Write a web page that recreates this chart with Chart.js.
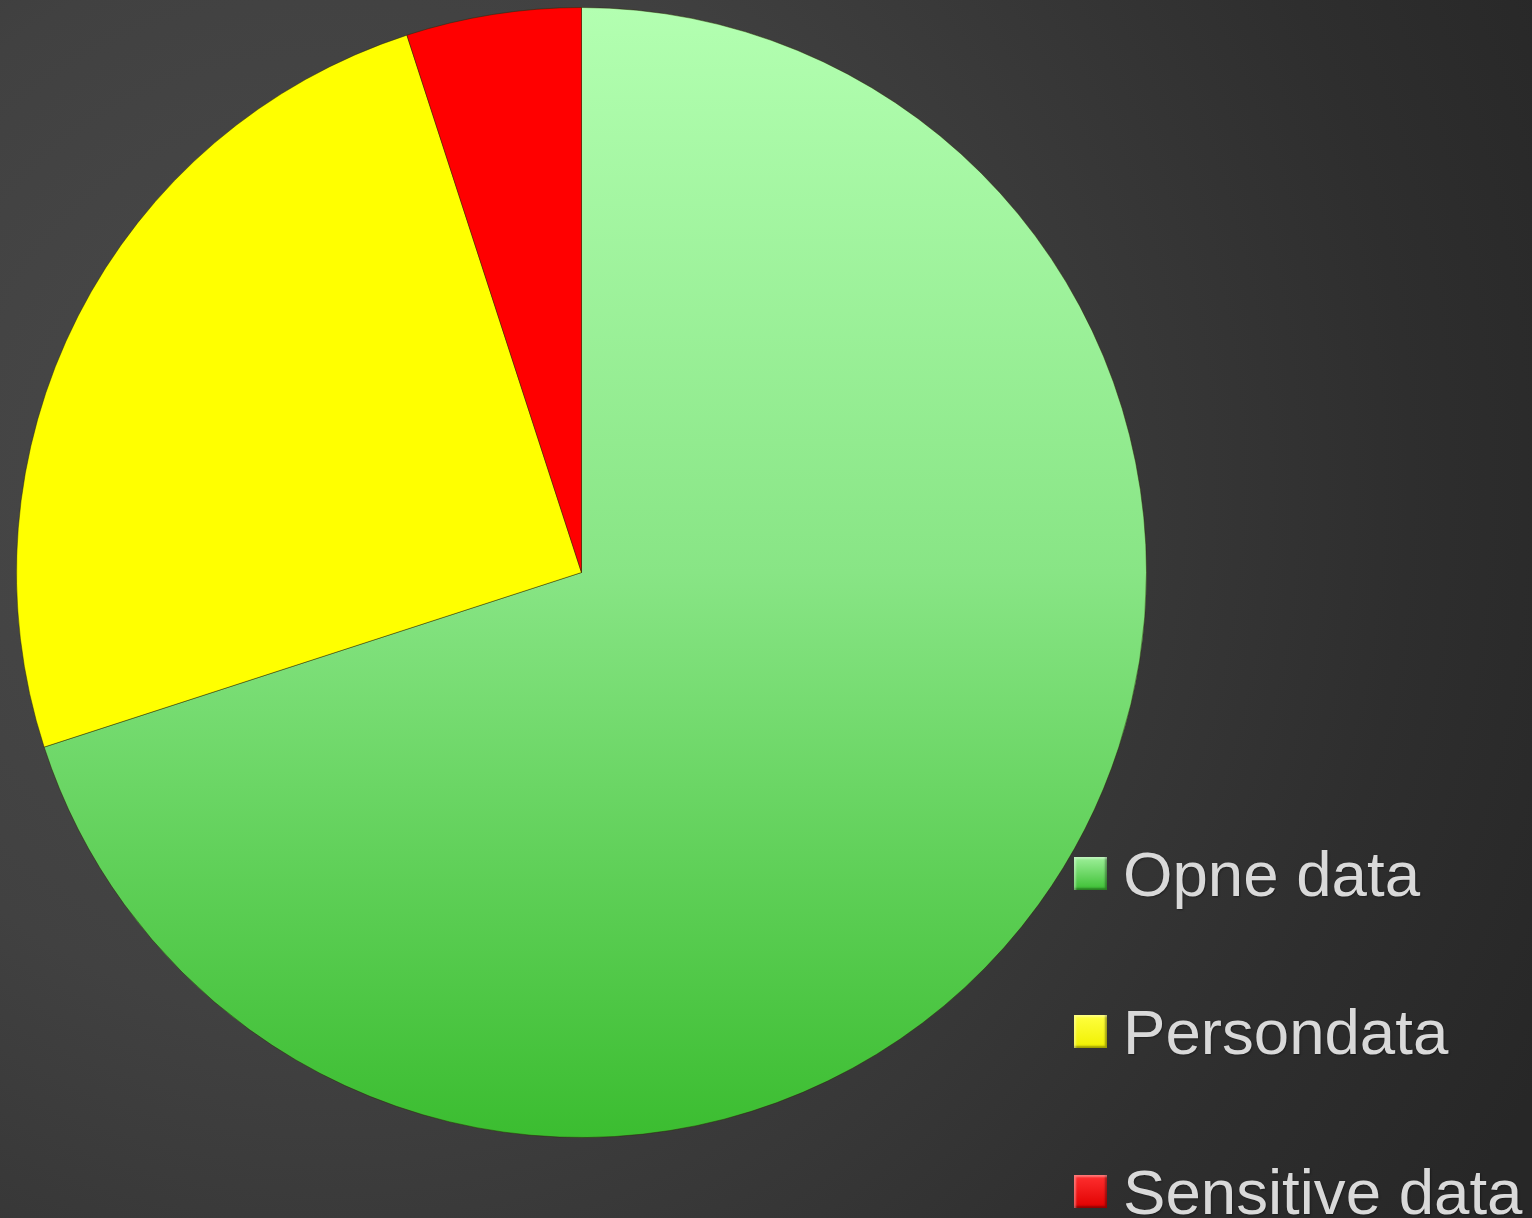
<!DOCTYPE html>
<html>
<head>
<meta charset="utf-8">
<script src="https://cdn.jsdelivr.net/npm/chart.js@4"></script>
<style>
  html, body { margin: 0; padding: 0; width: 1532px; height: 1218px; overflow: hidden; }
  body {
    background: radial-gradient(circle 1350px at 330px 480px, #4a4a4a 0%, #414141 40%, #2e2e2e 80%, #272727 100%);
    position: relative;
    font-family: "Liberation Sans", Arial, sans-serif;
  }
  #c { position: absolute; left: 0; top: 0; }
  .leg { position: absolute; left: 1074px; height: 64px; white-space: nowrap; }
  .leg .sw {
    position: absolute; left: 0; width: 33px; height: 33px; box-sizing: border-box;
    box-shadow: inset 2px 2px 2px rgba(255,255,255,0.35), inset -2px -2px 2px rgba(0,0,0,0.35);
  }
  .leg .tx {
    position: absolute; left: 49px; top: 0; font-size: 63.6px; line-height: 63.6px;
    color: #d9d9d9; text-shadow: 1px 1px 2px rgba(0,0,0,0.35);
  }
</style>
</head>
<body>
<canvas id="c" width="1532" height="1218"></canvas>
<div id="legend"></div>
<script>
const categories = ["Opne data", "Persondata", "Sensitive data"];
const values = [70, 25, 5];
const sliceColors = ["#8fe68b", "#ffff00", "#ff0000"];
const legendSwatches = [
  "linear-gradient(#9ef09a, #3cbf33)",
  "linear-gradient(#ffff40, #f0f000)",
  "linear-gradient(#ff3030, #e00000)"
];

function greenGradient(ctx) {
  const chart = ctx.chart;
  const a = chart.chartArea;
  if (!a) return sliceColors[0];
  const g = chart.ctx.createLinearGradient(0, a.top, 0, a.bottom);
  g.addColorStop(0, "#b3ffb1");
  g.addColorStop(0.5, "#88e585");
  g.addColorStop(1, "#3bbd30");
  return g;
}

new Chart(document.getElementById("c"), {
  type: "pie",
  data: {
    labels: categories,
    datasets: [{
      data: values,
      backgroundColor: (ctx) => ctx.dataIndex === 0 ? greenGradient(ctx) : sliceColors[ctx.dataIndex],
      borderColor: "rgba(40,40,0,0.45)",
      borderWidth: 1
    }]
  },
  options: {
    responsive: false,
    devicePixelRatio: 1,
    animation: false,
    layout: { padding: { left: 16, top: 7, right: 385, bottom: 80 } },
    plugins: {
      legend: { display: false },
      tooltip: { enabled: false }
    },
    events: []
  }
});

const tops = [842, 1000, 1160];
const legend = document.getElementById("legend");
categories.forEach((name, i) => {
  const d = document.createElement("div");
  d.className = "leg";
  d.style.top = tops[i] + "px";
  const sw = document.createElement("div");
  sw.className = "sw";
  sw.style.background = legendSwatches[i];
  sw.style.top = "15px";
  const tx = document.createElement("div");
  tx.className = "tx";
  tx.textContent = name;
  d.appendChild(sw);
  d.appendChild(tx);
  legend.appendChild(d);
});
</script>
</body>
</html>
